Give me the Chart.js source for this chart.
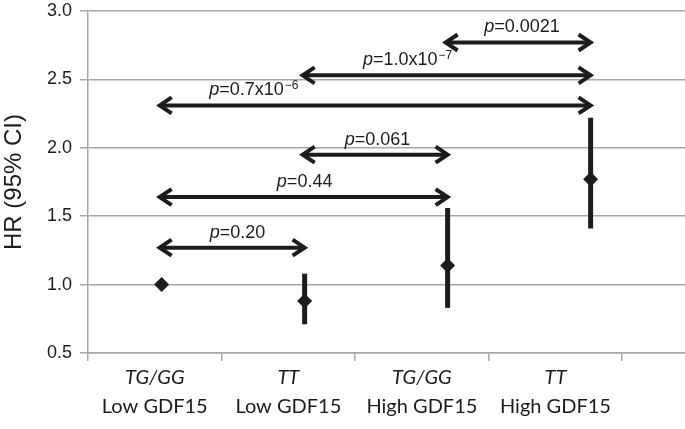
<!DOCTYPE html>
<html>
<head>
<meta charset="utf-8">
<script src="https://cdn.jsdelivr.net/npm/chart.js@4"></script>
<style>
    body { margin: 0; background: #fff; overflow: hidden; }
</style>
</head>
<body>
<canvas id="hrChart" width="685" height="429"></canvas>
<script>
// groups on the x axis
const genotypes = ['TG/GG', 'TT', 'TG/GG', 'TT'];
const gdfGroups = ['Low GDF15', 'Low GDF15', 'High GDF15', 'High GDF15'];

// hazard ratio and 95% CI per group (first group is the reference)
const hrValues = [1.00, 0.88, 1.14, 1.77];
const ciLower = [null, 0.71, 0.83, 1.41];
const ciUpper = [null, 1.08, 1.56, 2.22];

// y ticks
const yTicks = [0.5, 1.0, 1.5, 2.0, 2.5, 3.0];

// pairwise comparisons: from group, to group, height (HR units), p-value text
const compareFrom = [0, 0, 1, 0, 1, 2];
const compareTo = [1, 2, 2, 3, 3, 3];
const compareLevel = [1.27, 1.64, 1.95, 2.31, 2.53, 2.77];
const pValue = ['0.20', '0.44', '0.061', '0.7x10', '1.0x10', '0.0021'];
const pExponent = ['', '', '', '\u22126', '\u22127', ''];
const pLabelAt = [0.53, 1.0, 1.51, 0.645, 1.72, 2.52];

const INK = '#1c1c1c';
const GRID = '#a8a8a8';
const SANS = '"Liberation Sans", Arial, sans-serif';
const LABEL_FONT = 'Lato, "Open Sans", sans-serif';

const groupPlugin = {
    id: 'groupMarks',
    beforeDatasetsDraw(chart) {
        const { ctx, scales: { xd, y } } = chart;
        ctx.save();
        ctx.strokeStyle = INK;
        ctx.lineWidth = 5;
        hrValues.forEach((v, i) => {
            if (ciLower[i] == null) return;
            const px = xd.getPixelForValue(i);
            ctx.beginPath();
            ctx.moveTo(px, y.getPixelForValue(ciLower[i]));
            ctx.lineTo(px, y.getPixelForValue(ciUpper[i]));
            ctx.stroke();
        });
        ctx.restore();
    },
    afterDatasetsDraw(chart) {
        const { ctx, scales: { xd, y } } = chart;
        ctx.save();
        ctx.strokeStyle = INK;
        ctx.fillStyle = INK;
        ctx.lineWidth = 4;
        ctx.lineJoin = 'miter';
        compareFrom.forEach((from, i) => {
            const x1 = xd.getPixelForValue(from) - 3;
            const x2 = xd.getPixelForValue(compareTo[i]) + 1;
            const py = y.getPixelForValue(compareLevel[i]);
            // shaft
            ctx.beginPath();
            ctx.moveTo(x1 + 2, py);
            ctx.lineTo(x2 - 2, py);
            ctx.stroke();
            // open heads
            ctx.beginPath();
            ctx.moveTo(x1 + 13, py - 8);
            ctx.lineTo(x1 + 1, py);
            ctx.lineTo(x1 + 13, py + 8);
            ctx.moveTo(x2 - 13, py - 8);
            ctx.lineTo(x2 - 1, py);
            ctx.lineTo(x2 - 13, py + 8);
            ctx.stroke();

            // p label
            const italic = 'italic 18px ' + SANS;
            const normal = '18px ' + SANS;
            const small = '12px ' + SANS;
            const rest = '=' + pValue[i];
            ctx.font = italic;
            const wP = ctx.measureText('p').width;
            ctx.font = normal;
            const wRest = ctx.measureText(rest).width;
            ctx.font = small;
            const wExp = pExponent[i] ? ctx.measureText(pExponent[i]).width + 1 : 0;
            let tx = xd.getPixelForValue(pLabelAt[i]) - (wP + wRest + wExp) / 2;
            const ty = py - 10;
            ctx.textBaseline = 'alphabetic';
            ctx.textAlign = 'left';
            ctx.font = italic;
            ctx.fillText('p', tx, ty);
            tx += wP;
            ctx.font = normal;
            ctx.fillText(rest, tx, ty);
            tx += wRest;
            if (pExponent[i]) {
                ctx.font = small;
                ctx.fillText(pExponent[i], tx + 1, ty - 6);
            }
        });
        ctx.restore();
    },
    afterDraw(chart) {
        const { ctx, scales: { x } } = chart;
        ctx.save();
        ctx.fillStyle = INK;
        ctx.textAlign = 'center';
        ctx.textBaseline = 'alphabetic';
        genotypes.forEach((g, i) => {
            const px = x.getPixelForValue(i + 0.5);
            ctx.font = 'italic 20px ' + LABEL_FONT;
            ctx.fillText(g, px, 384);
            ctx.font = '20px ' + LABEL_FONT;
            ctx.fillText(gdfGroups[i], px, 413);
        });
        ctx.restore();
    }
};

function drawHrChart() {
    const ctx = document.getElementById('hrChart').getContext('2d');
    new Chart(ctx, {
        type: 'scatter',
        data: {
            datasets: [{
                xAxisID: 'xd',
                yAxisID: 'y',
                data: hrValues.map((v, i) => ({ x: i, y: v })),
                pointStyle: 'rectRot',
                pointRadius: 7.5,
                pointHoverRadius: 7.5,
                backgroundColor: INK,
                borderWidth: 0
            }]
        },
        options: {
            responsive: false,
            animation: false,
            layout: { autoPadding: false, padding: { top: 11, right: 0, bottom: 0, left: 0 } },
            plugins: {
                legend: { display: false },
                tooltip: { enabled: false }
            },
            scales: {
                x: {
                    type: 'linear',
                    position: 'bottom',
                    min: 0,
                    max: 4.47,
                    afterBuildTicks: s => { s.ticks = [0, 1, 2, 3, 4].map(v => ({ value: v })); },
                    afterFit: s => {
                        s.height = 76;
                        s.paddingLeft = 0;
                        s.paddingRight = 0;
                    },
                    ticks: { display: false },
                    grid: { drawOnChartArea: false, tickLength: 8, color: GRID, lineWidth: 1.5 },
                    border: { color: GRID, width: 1.5 }
                },
                xd: {
                    type: 'linear',
                    display: false,
                    min: -0.515,
                    max: 3.66
                },
                y: {
                    min: 0.5,
                    max: 3.0,
                    afterBuildTicks: s => { s.ticks = yTicks.map(v => ({ value: v })); },
                    afterFit: s => {
                        s.width = 88;
                        s.paddingTop = 0;
                        s.paddingBottom = 0;
                    },
                    ticks: {
                        padding: 8,
                        color: INK,
                        font: { family: SANS, size: 18 },
                        callback: v => v.toFixed(1)
                    },
                    grid: { color: GRID, lineWidth: 1.5, tickLength: 8 },
                    border: { color: GRID, width: 1.5 },
                    title: {
                        display: true,
                        text: 'HR (95% CI)',
                        color: INK,
                        padding: 0,
                        font: { family: SANS, size: 24 }
                    }
                }
            }
        },
        plugins: [groupPlugin]
    });
}

drawHrChart();
</script>
</body>
</html>
